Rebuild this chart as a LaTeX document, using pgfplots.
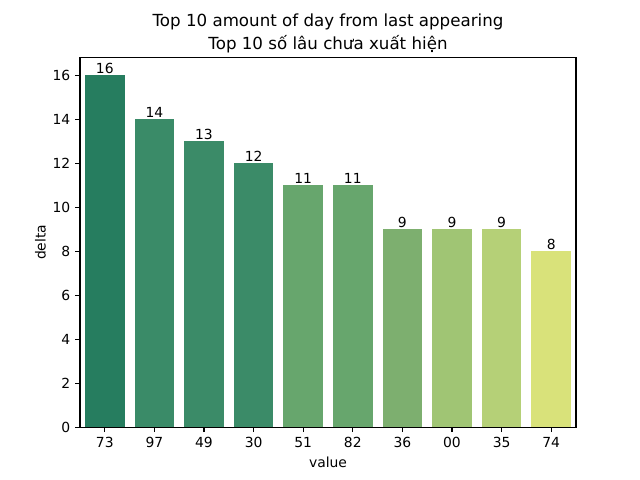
\documentclass[border=0pt]{standalone}
\usepackage{pgfplots}
\pgfplotsset{compat=1.18}
\usepackage{fontspec}
\setmainfont{DejaVu Sans}
\definecolor{c1}{RGB}{38,125,95}
\definecolor{c2}{RGB}{58,139,104}
\definecolor{c3}{RGB}{59,139,104}
\definecolor{c4}{RGB}{59,139,104}
\definecolor{c5}{RGB}{103,166,109}
\definecolor{c6}{RGB}{103,166,109}
\definecolor{c7}{RGB}{125,175,111}
\definecolor{c8}{RGB}{160,197,116}
\definecolor{c9}{RGB}{181,208,119}
\definecolor{c10}{RGB}{217,226,122}
\begin{document}
\begin{tikzpicture}
\begin{axis}[
  scale only axis,
  width=357.12pt, height=266.1pt,
  xmin=-0.5, xmax=9.5, ymin=0, ymax=16.8,
  xtick={0,...,9},
  xticklabels={73,97,49,30,51,82,36,00,35,74},
  ytick={0,2,...,16},
  tick align=outside, tick pos=left,
  major tick length=3.5pt,
  every tick/.style={black, line width=0.8pt},
  axis line style={line width=0.8pt},
  /pgf/number format/assume math mode=true,
  tick label style={font=\fontsize{10}{12}\selectfont},
  xlabel={value}, ylabel={delta},
  label style={font=\fontsize{10}{12}\selectfont},
  title style={font=\fontsize{12}{16.6}\selectfont, align=center, yshift=-6pt},
  title={Top 10 amount of day from last appearing\\Top 10 số lâu chưa xuất hiện},
  ybar, bar width=0.8, bar shift=0pt,
  nodes near coords,
  every node near coord/.append style={font=\fontsize{10}{12}\selectfont, black, inner sep=1pt, anchor=south},
  xlabel style={yshift=0pt},
  ylabel style={yshift=-2pt},
]
\addplot[fill=c1, draw=none] coordinates {(0,16)};
\addplot[fill=c2, draw=none] coordinates {(1,14)};
\addplot[fill=c3, draw=none] coordinates {(2,13)};
\addplot[fill=c4, draw=none] coordinates {(3,12)};
\addplot[fill=c5, draw=none] coordinates {(4,11)};
\addplot[fill=c6, draw=none] coordinates {(5,11)};
\addplot[fill=c7, draw=none] coordinates {(6,9)};
\addplot[fill=c8, draw=none] coordinates {(7,9)};
\addplot[fill=c9, draw=none] coordinates {(8,9)};
\addplot[fill=c10, draw=none] coordinates {(9,8)};
\end{axis}
\pgfresetboundingbox
\path ([shift={(-57.6pt,-38.02pt)}]current axis.south west) rectangle ([shift={(46.08pt,41.47pt)}]current axis.north east);
\end{tikzpicture}
\end{document}
